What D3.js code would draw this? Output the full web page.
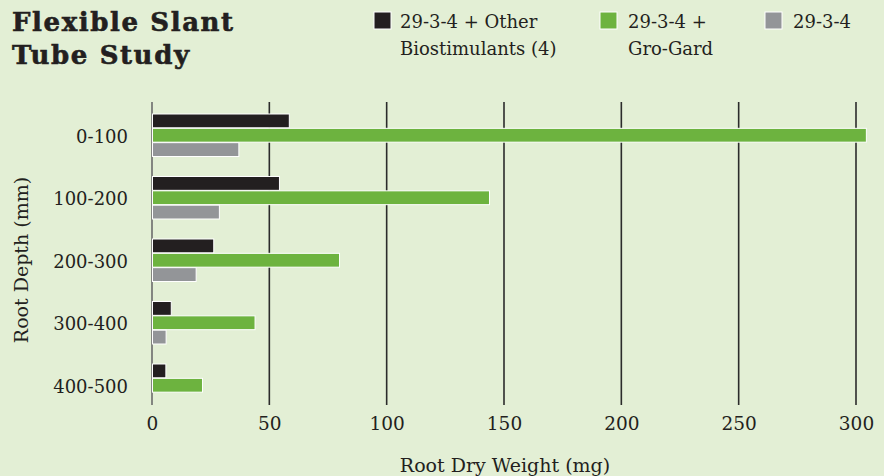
<!DOCTYPE html>
<html><head><meta charset="utf-8">
<script src="https://cdn.jsdelivr.net/npm/d3@7"></script>
<style>
html,body{margin:0;padding:0;background:#e3efd5;}
svg{display:block;}
</style></head>
<body>
<svg id="c" width="884" height="476"></svg>
<script>
const categories = ["0-100","100-200","200-300","300-400","400-500"];
const seriesNames = ["29-3-4 + Other Biostimulants (4)","29-3-4 + Gro-Gard","29-3-4"];
const otherBio = [58.3, 54.1, 26.1, 8.0, 5.7];
const groGard = [304.2, 143.6, 79.7, 43.7, 21.3];
const base = [36.8, 28.5, 18.6, 5.8, 0];
const xTicks = [0,50,100,150,200,250,300];
const colors = ["#231f20","#6db33f","#939598"];

const svg = d3.select("#c");
svg.append("rect").attr("width",884).attr("height",476).attr("fill","#e3efd5");
const font = "'DejaVu Serif', 'Liberation Serif', serif";

const x = d3.scaleLinear().domain([0,300]).range([152,856]);
const y = d3.scaleBand().domain(categories).range([104.25,416.75]).paddingInner(0).paddingOuter(0);
const sub = d3.scaleBand().domain(d3.range(3)).range([0,43]);

// gridlines
svg.append("g").selectAll("line").data(xTicks).join("line")
  .attr("x1",d=>x(d)).attr("x2",d=>x(d)).attr("y1",102).attr("y2",405)
  .attr("stroke",d=>d===0?"#6b6b6b":"#2b2b2b").attr("stroke-width",1.6);

const series = [otherBio, groGard, base];
const g = svg.append("g");
series.forEach((vals,si)=>{
  vals.forEach((v,i)=>{
    if(v<=0) return;
    g.append("rect")
      .attr("x",x(0)+0.5)
      .attr("y",y(categories[i]) + (y.bandwidth()-43)/2 + sub(si))
      .attr("width",x(v)-x(0))
      .attr("height",sub.bandwidth()-0.5)
      .attr("fill",colors[si]).attr("stroke","#ffffff").attr("stroke-width",1);
  });
});

// x axis tick labels
const xAxis = d3.axisBottom(x).tickValues(xTicks).tickSize(0).tickPadding(0);
const xa = svg.append("g").attr("transform","translate(0,417)").call(xAxis);
xa.select(".domain").remove();
xa.selectAll("text").attr("font-family",font).attr("font-size",18.5).attr("fill","#231f20").attr("dy","0.71em");

// y axis labels
const yAxis = d3.axisLeft(y).tickSize(0).tickPadding(0);
const ya = svg.append("g").attr("transform","translate(128,1.5)").call(yAxis);
ya.select(".domain").remove();
ya.selectAll("text").attr("font-family",font).attr("font-size",18).attr("fill","#231f20");

// axis titles
svg.append("text").attr("x",505).attr("y",472).attr("text-anchor","middle")
  .attr("font-family",font).attr("font-size",19).attr("fill","#231f20").text("Root Dry Weight (mg)");
svg.append("text").attr("transform","translate(28,260) rotate(-90)").attr("text-anchor","middle")
  .attr("font-family",font).attr("font-size",19).attr("fill","#231f20").text("Root Depth (mm)");

// title
const t = svg.append("text").attr("font-family",font).attr("font-weight","900").attr("font-size",26)
  .attr("letter-spacing",1.6).attr("fill","#231f20").attr("stroke","#231f20").attr("stroke-width",0.6);
t.append("tspan").attr("x",12).attr("y",31).text("Flexible Slant");
t.append("tspan").attr("x",12).attr("y",64).text("Tube Study");

// legend
const legend = [
  {lines:["29-3-4 + Other","Biostimulants (4)"], sx:374, tx:400},
  {lines:["29-3-4 +","Gro-Gard"], sx:600, tx:628},
  {lines:["29-3-4"], sx:765, tx:793}
];
legend.forEach((L,i)=>{
  svg.append("rect").attr("x",L.sx).attr("y",12).attr("width",17).attr("height",17)
    .attr("fill",colors[i]).attr("stroke","#ffffff").attr("stroke-width",1);
  const tx = svg.append("text").attr("font-family",font).attr("font-size",18).attr("fill","#231f20");
  L.lines.forEach((ln,j)=>tx.append("tspan").attr("x",L.tx).attr("y",28+j*27).text(ln));
});
</script>
</body></html>
